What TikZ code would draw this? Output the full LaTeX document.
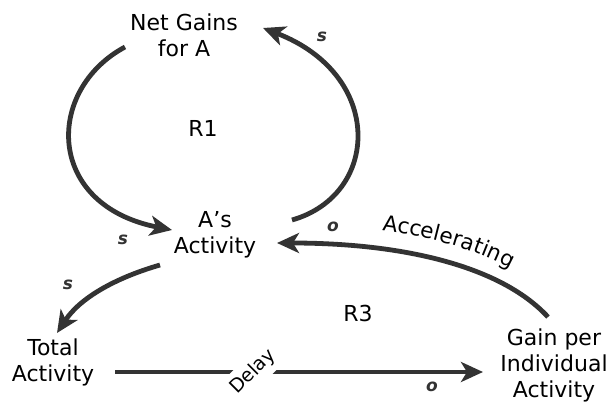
\documentclass[tikz,border=0pt]{standalone}
\usepackage{fontspec}
\setmainfont{DejaVu Sans}
\usetikzlibrary{arrows.meta,calc,decorations.text}
\definecolor{ink}{HTML}{333333}
\begin{document}
\begin{tikzpicture}[x=1pt,y=-1pt,
  lbl/.style={font=\fontsize{22}{26}\selectfont, align=center, inner sep=0pt, text=black},
  loopname/.style={font=\fontsize{22}{26}\selectfont, inner sep=0pt, text=black},
  pol/.style={font=\fontsize{17}{17}\selectfont\bfseries\itshape, text=ink, inner sep=0pt},
  conn/.style={draw=ink, line width=4.8pt, -{Stealth[length=22pt,width=20pt,inset=6pt]}},
]
\useasboundingbox[fill=white] (0,0) rectangle (611,403);

% variables
\node[lbl] (ng) at (184,35) {Net Gains\\for A};
\node[lbl] (aa) at (215,235) {A’s\\Activity};
\node[lbl] (ta) at (53,362) {Total\\Activity};
\node[lbl] (gp) at (554,365) {Gain per\\Individual\\Activity};

% loop names
\node[loopname] (r1) at (203,128) {R1};
\node[loopname] (r3) at (358,313) {R3};

% R1 loop
\draw[conn] ($(ng)+(-59,12)$) .. controls +(-80,43) and +(-127,-25) .. ($(aa)+(-43,-5)$);
\draw[conn] ($(aa)+(77,-15)$) .. controls +(88,-25) and +(122,47) .. ($(ng)+(79,-7)$);

% A's Activity -> Total Activity
\draw[conn] ($(aa)+(-55,30)$) .. controls +(-45,13) and +(23,-35) .. ($(ta)+(4,-29)$);

% Total Activity -> Gain per Individual Activity (delayed)
\draw[conn] ($(ta)+(62,10)$) -- ($(gp)+(-71,7)$);
\node[fill=white, inner sep=6pt, rotate=45, font=\fontsize{19}{19}\selectfont] (dl) at (253,372) {Delay};

% Gain per Individual Activity -> A's Activity
\draw[conn] ($(gp)+(-6,-48)$) .. controls +(-48,-52) and +(123,0) .. ($(aa)+(62,8)$);
\path[decorate, decoration={text along path, text align=center,
  text={|\fontsize{21.5}{21.5}\selectfont|Accelerating}}]
  ($(aa)+(148,-7)$) .. controls +(50,5) and +(-50,-32) .. ($(gp)+(-27,-87)$);

% polarities
\node[pol] (p1) at (322,37) {s};
\node[pol] (p2) at (123,240) {s};
\node[pol] (p3) at (68,285) {s};
\node[pol] (p4) at (333,227) {o};
\node[pol] (p5) at (432,387) {o};
\end{tikzpicture}
\end{document}
